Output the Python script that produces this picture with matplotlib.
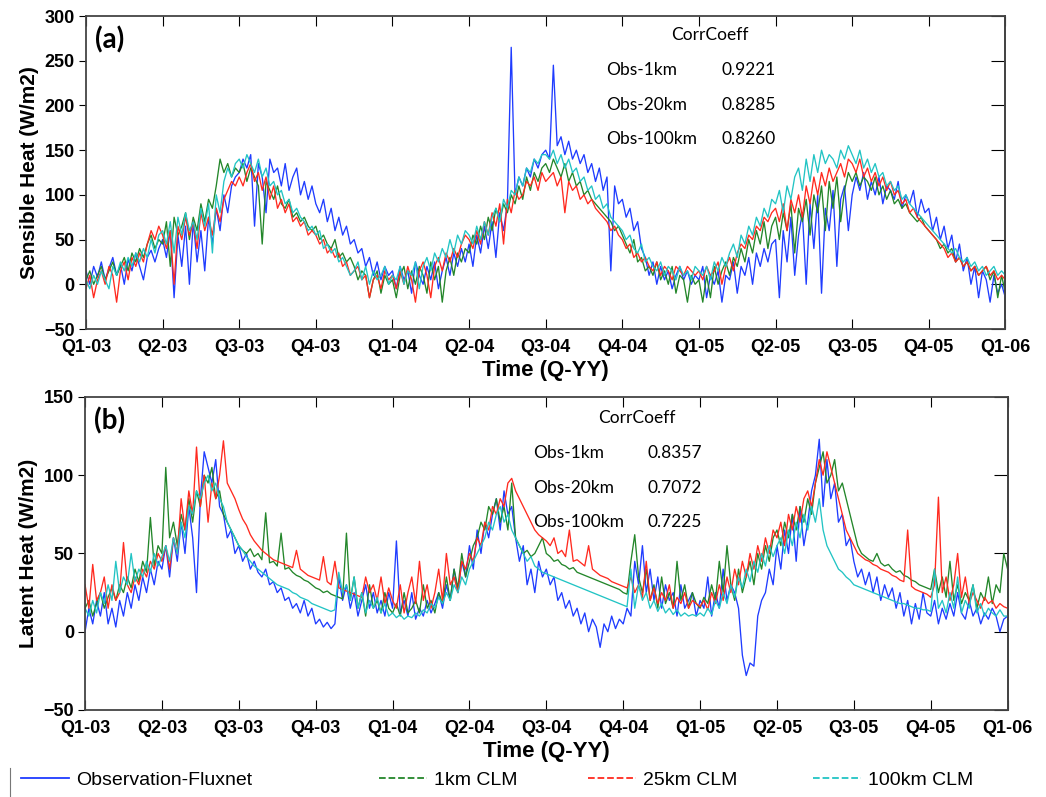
import numpy as np
import matplotlib.pyplot as plt
from matplotlib.lines import Line2D

# quarter labels on the time axis
quarters = ["Q1-03", "Q2-03", "Q3-03", "Q4-03", "Q1-04", "Q2-04", "Q3-04",
            "Q4-04", "Q1-05", "Q2-05", "Q3-05", "Q4-05", "Q1-06"]

# sensible heat (W/m2), 20 samples per quarter (one row = one quarter)
sens_obs = [15, 0, 20, 8, 25, 5, 18, 30, 10, 22, 0, 28, 15, 35, 20, 5, 30, 38, 25, 40,
            50, 30, 60, -15, 55, 20, 65, 0, 70, 25, 60, 15, 75, 45, 85, 60, 100, 80, 110, 120,
            125, 140, 130, 145, 65, 135, 120, 80, 140, 125, 130, 110, 135, 105, 120, 130, 100, 115, 95, 110,
            90, 80, 95, 70, 85, 60, 75, 55, 65, 45, 50, 35, 40, 20, 30, 10, 25, 5, 20, 10,
            15, -5, 20, 5, 15, -10, 25, 10, 0, 20, 5, 25, -5, 15, 30, 10, 35, 20, 40, 25,
            45, 20, 55, 35, 65, 40, 70, 30, 80, 60, 90, 265, 100, 120, 110, 130, 120, 140, 130, 145,
            150, 140, 245, 155, 165, 145, 160, 140, 150, 135, 145, 125, 135, 115, 130, 105, 120, 15, 110, 90,
            95, 75, 85, 60, 70, 40, 30, 10, 25, 0, 20, 5, 15, -5, 10, 20, 5, 15, 0, 10,
            5, 20, -15, 10, 0, 15, -20, 10, 5, 25, -10, 20, 10, 30, 0, 35, 20, 40, 25, 45,
            50, -15, 60, 25, 75, 10, 55, 80, 0, 90, 40, 100, -10, 85, 60, 105, 20, 95, 110, 60,
            100, 120, 105, 125, 95, 115, 100, 120, 90, 110, 105, 95, 115, 85, 100, 90, 105, 75, 95, 80,
            85, 60, 75, 50, 65, 40, 55, 25, 45, 15, 30, 0, 20, -15, 15, 5, -20, 10, -10, 0,
            -15]
sens_1km = [5, 15, 0, 10, 20, 5, 15, 25, 10, 20, 30, 15, 35, 25, 40, 30, 45, 55, 40, 50,
            45, 70, 20, 75, 55, 65, 80, 50, 75, 60, 90, 70, 95, 85, 110, 140, 125, 135, 120, 130,
            125, 135, 115, 130, 120, 110, 45, 115, 105, 95, 110, 90, 85, 95, 75, 80, 70, 75, 65, 60,
            65, 50, 55, 45, 40, 50, 30, 35, 25, 30, 20, 5, 15, 10, -15, 5, 15, -10, 10, 0,
            5, -15, 10, 20, -5, 15, 0, 20, 10, -10, 25, 5, 20, -20, 15, 30, 10, 35, 25, 40,
            35, 55, 45, 65, 50, 75, 60, 85, 70, 90, 80, 100, 90, 110, 95, 120, 105, 125, 115, 130,
            135, 125, 140, 130, 120, 135, 115, 125, 110, 115, 100, 105, 95, 90, 85, 80, 75, 70, 60, 65,
            55, 45, 35, 50, 25, 30, 15, 20, 10, 25, 5, 15, 0, 20, -10, 10, 5, -20, 10, 0,
            5, -20, 10, -15, 20, 0, 15, 25, 10, 30, 20, 40, 25, 50, 35, 60, 45, 70, 40, 65,
            75, 50, 80, 60, 90, 35, 85, 70, 95, 55, 100, 80, 110, 60, 115, 85, 120, 70, 105, 125,
            115, 125, 110, 120, 115, 105, 120, 100, 110, 95, 105, 90, 95, 85, 90, 80, 75, 70, 75, 65,
            60, 55, 50, 40, 45, 35, 40, 25, 30, 20, 25, 15, 20, 10, 15, 20, 5, 15, -15, 10,
            -10]
sens_25km = [-5, 10, -15, 5, 15, 0, 20, 10, -20, 15, 25, 5, 30, 20, 35, 25, 45, 60, 50, 65,
             55, 40, 60, 0, 65, 50, 75, 55, 70, 40, 80, 60, 75, 55, 85, 70, 95, 105, 115, 110,
             120, 110, 125, 135, 115, 125, 105, 120, 95, 110, 85, 95, 80, 90, 70, 75, 65, 70, 55, 60,
             55, 45, 50, 35, 40, 30, 35, 20, 25, 10, 15, 20, 5, 10, -15, 5, 10, -5, 15, 5,
             10, -5, 15, 0, 20, 5, -20, 15, 25, 10, -15, 20, 30, 15, 35, 25, 40, 30, 45, 55,
             50, 40, 60, 45, 70, 55, 80, 65, 90, 45, 95, 80, 105, 95, 100, 115, 110, 120, 105, 125,
             115, 120, 125, 110, 120, 80, 115, 105, 110, 95, 100, 90, 95, 85, 80, 75, 70, 60, 65, 55,
             50, 40, 45, 30, 35, 25, 30, 20, 15, 25, 10, 20, 15, 5, 20, 15, 10, 20, 15, 10,
             15, 5, 20, 10, 15, 25, 0, 20, 30, 15, 35, 45, 40, 55, 50, 65, 60, 75, 70, 80,
             85, 70, 90, 60, 95, 80, 100, 75, 110, 90, 120, 100, 125, 110, 130, 115, 125, 135, 120, 140,
             135, 125, 140, 120, 130, 115, 125, 110, 120, 105, 115, 100, 105, 90, 95, 80, 85, 75, 70, 65,
             60, 55, 50, 45, 40, 30, 35, 25, 30, 20, 25, 15, 20, 10, 15, 20, 10, 15, 5, 10,
             5]
sens_100km = [5, -5, 10, 0, 15, 5, -5, 20, 10, 25, 15, 30, 20, 35, 25, 40, 30, 50, 35, 55,
              60, 45, 70, 35, 75, 55, 80, 60, 70, 50, 85, 65, 90, 35, 100, 80, 115, 130, 120, 135,
              140, 130, 145, 135, 125, 140, 120, 130, 110, 115, 100, 105, 90, 95, 80, 85, 75, 70, 60, 65,
              55, 60, 40, 45, 35, 40, 25, 30, 20, 10, 15, 25, 5, 20, 0, 15, 5, 10, 20, 0,
              10, 5, 20, 0, 15, 10, 25, -5, 20, 30, 15, 35, 25, 40, 30, 50, 35, 55, 45, 60,
              55, 45, 65, 50, 70, 55, 75, 85, 70, 95, 85, 105, 100, 120, 110, 130, 125, 140, 135, 145,
              145, 140, 150, 135, 145, 130, 140, 125, 130, 115, 120, 105, 110, 95, 100, 85, 90, 75, 70, 65,
              60, 50, 55, 40, 35, 45, 25, 30, 20, 15, 25, 10, 20, 15, 5, 20, 10, 15, 5, 20,
              15, 10, 20, 5, 25, 15, 30, 20, 35, 45, 30, 55, 45, 65, 55, 75, 65, 85, 75, 95,
              90, 105, 80, 110, 95, 120, 130, 105, 140, 115, 145, 125, 150, 135, 145, 140, 130, 150, 140, 155,
              145, 135, 150, 130, 140, 125, 135, 120, 125, 110, 115, 105, 110, 95, 100, 90, 85, 80, 75, 70,
              65, 60, 55, 50, 45, 40, 35, 40, 30, 25, 30, 20, 25, 15, 20, 10, 15, 20, 10, 15,
              10]

# latent heat (W/m2)
lat_obs = [0, 15, 5, 20, 10, 25, 5, 15, 3, 20, 10, 25, 15, 30, 20, 35, 25, 40, 30, 45,
           40, 55, 35, 60, 45, 70, 50, 80, 60, 25, 85, 115, 105, 95, 110, 80, 75, 60, 65, 50,
           55, 45, 50, 40, 45, 38, 35, 40, 30, 32, 25, 28, 20, 22, 15, 18, 12, 20, 10, 15,
           5, 8, 3, 6, 2, 5, 35, 20, 30, 15, 25, 10, 20, 30, 15, 25, 12, 20, 10, 25,
           15, 58, 12, 20, 10, 25, 8, 15, 10, 20, 12, 18, 25, 15, 30, 20, 40, 25, 45, 35,
           55, 40, 65, 50, 70, 60, 75, 85, 65, 90, 75, 80, 60, 45, 55, 30, 40, 25, 45, 35,
           40, 30, 35, 20, 25, 15, 20, 10, 15, 5, 12, 0, 8, 3, -10, 5, 0, 10, 2, 8,
           5, 15, 10, 45, 30, 55, 25, 40, 20, 35, 15, 30, 20, 25, 10, 30, 15, 20, 25, 10,
           20, 15, 35, 10, 25, 15, 40, 20, 30, 25, 15, -15, -28, -20, -22, 10, 20, 25, 40, 30,
           55, 40, 65, 50, 75, 45, 80, 55, 70, 90, 100, 123, 80, 110, 85, 95, 70, 75, 55, 60,
           45, 35, 40, 30, 38, 25, 35, 20, 30, 22, 28, 15, 25, 10, 20, 5, 18, 8, 25, 12,
           10, 20, 5, 15, 8, 18, 10, 25, 12, 8, 20, 10, 15, 5, 12, 8, 15, 10, 0, 8,
           10]
lat_1km = [15, 20, 10, 18, 25, 15, 22, 28, 20, 30, 25, 35, 28, 40, 32, 45, 38, 73, 42, 55,
           50, 105, 60, 70, 55, 75, 65, 85, 70, 90, 80, 100, 95, 105, 85, 90, 75, 70, 65, 60,
           55, 52, 50, 53, 48, 50, 46, 76, 44, 45, 42, 63, 40, 41, 38, 36, 35, 33, 32, 30,
           28, 27, 25, 26, 24, 23, 22, 21, 63, 20, 35, 15, 25, 10, 30, 15, 20, 12, 25, 15,
           12, 18, 10, 25, 12, 15, 20, 12, 30, 15, 20, 12, 25, 18, 35, 20, 40, 28, 50, 35,
           45, 55, 60, 70, 65, 80, 75, 85, 70, 80, 65, 95, 60, 55, 50, 52, 48, 50, 55, 60,
           50, 48, 45, 46, 43, 42, 40, 41, 38, 37, 36, 35, 34, 33, 32, 31, 30, 29, 28, 27,
           25, 24, 45, 62, 35, 25, 40, 20, 30, 15, 35, 18, 25, 15, 45, 20, 30, 15, 25, 18,
           15, 22, 18, 30, 20, 45, 25, 55, 30, 20, 40, 25, 35, 45, 30, 50, 40, 55, 45, 60,
           65, 55, 70, 60, 75, 65, 80, 70, 85, 75, 95, 105, 115, 95, 100, 110, 90, 95, 85, 75,
           65, 55, 50, 48, 46, 45, 50, 44, 42, 43, 40, 38, 39, 36, 35, 33, 32, 30, 29, 28,
           27, 40, 25, 35, 22, 45, 20, 30, 18, 25, 20, 30, 15, 25, 20, 35, 18, 30, 25, 50,
           40]
lat_25km = [30, 15, 43, 20, 25, 35, 15, 30, 20, 25, 57, 30, 25, 35, 30, 40, 35, 45, 40, 50,
            45, 55, 40, 60, 50, 85, 65, 90, 75, 118, 80, 100, 70, 95, 85, 100, 122, 95, 90, 85,
            78, 72, 68, 62, 58, 55, 52, 50, 48, 46, 45, 44, 43, 42, 41, 52, 40, 38, 36, 35,
            34, 33, 48, 32, 30, 45, 28, 27, 26, 25, 24, 23, 22, 35, 25, 30, 20, 35, 18, 28,
            20, 15, 30, 12, 25, 35, 18, 45, 20, 30, 15, 25, 40, 20, 50, 30, 35, 25, 45, 40,
            50, 45, 60, 55, 70, 65, 80, 75, 85, 80, 95, 98, 90, 85, 80, 75, 70, 65, 62, 60,
            58, 55, 60, 50, 52, 48, 65, 45, 46, 44, 42, 55, 40, 38, 36, 35, 34, 32, 31, 30,
            29, 28, 35, 25, 30, 22, 45, 20, 28, 18, 25, 20, 30, 15, 22, 18, 25, 15, 20, 18,
            16, 20, 14, 25, 18, 30, 20, 35, 25, 40, 30, 45, 35, 50, 40, 55, 45, 60, 50, 65,
            60, 70, 55, 75, 65, 80, 70, 85, 90, 80, 95, 110, 100, 115, 105, 95, 85, 75, 65, 60,
            55, 50, 48, 46, 45, 43, 42, 40, 39, 38, 36, 35, 33, 32, 65, 29, 27, 26, 25, 24,
            22, 30, 86, 25, 35, 20, 30, 50, 22, 35, 18, 25, 20, 15, 22, 18, 20, 15, 18, 16,
            15]
lat_100km = [15, 10, 20, 12, 25, 18, 30, 20, 45, 25, 35, 30, 50, 32, 40, 35, 45, 38, 50, 42,
             48, 55, 45, 60, 50, 70, 60, 80, 75, 90, 85, 95, 100, 90, 95, 85, 80, 70, 65, 60,
             55, 52, 48, 45, 42, 40, 38, 36, 34, 32, 30, 29, 28, 27, 25, 24, 22, 21, 20, 18,
             17, 16, 15, 14, 13, 14, 38, 25, 30, 20, 35, 15, 25, 12, 20, 15, 22, 12, 18, 10,
             12, 9, 11, 8, 10, 9, 12, 10, 14, 12, 18, 15, 22, 18, 25, 20, 30, 25, 35, 30,
             40, 45, 50, 55, 60, 70, 65, 75, 80, 70, 75, 65, 60, 55, 50, 45, 48, 42, 40, 38,
             37, 36, 35, 34, 33, 32, 31, 30, 29, 28, 27, 26, 25, 24, 23, 22, 21, 20, 19, 18,
             17, 16, 40, 15, 30, 20, 25, 15, 20, 13, 18, 12, 15, 11, 14, 10, 12, 10, 11, 10,
             12, 10, 15, 11, 20, 15, 25, 18, 30, 22, 35, 28, 40, 32, 45, 38, 50, 42, 55, 48,
             55, 60, 50, 65, 55, 70, 60, 75, 65, 80, 70, 85, 65, 55, 50, 45, 40, 38, 35, 33,
             30, 29, 28, 27, 26, 25, 24, 23, 22, 21, 20, 19, 18, 18, 17, 16, 15, 15, 14, 14,
             13, 40, 15, 20, 12, 25, 15, 35, 12, 20, 15, 30, 12, 18, 10, 15, 12, 10, 14, 10,
             10]

series_names = ["Observation-Fluxnet", "1km CLM", "25km CLM", "100km CLM"]
colors = ["#1f3cff", "#23862a", "#ff2a1f", "#22c4c4"]

corr_rows = ["Obs-1km", "Obs-20km", "Obs-100km"]
corr_sens = ["0.9221", "0.8285", "0.8260"]
corr_lat = ["0.8357", "0.7072", "0.7225"]

fig = plt.figure(figsize=(10.46, 7.97), dpi=100)
ax1 = fig.add_axes([0.0822, 0.5872, 0.879, 0.3927])
ax2 = fig.add_axes([0.0813, 0.1092, 0.882, 0.3927])

panels = [
    (ax1, [sens_obs, sens_1km, sens_25km, sens_100km], (-50, 300),
     "Sensible Heat (W/m2)", "(a)"),
    (ax2, [lat_obs, lat_1km, lat_25km, lat_100km], (-50, 150),
     "Latent Heat (W/m2)", "(b)"),
]

for ax, data, ylim, ylab, tag in panels:
    for vals, c in zip(data, colors):
        t = np.arange(len(vals)) / 20.0
        ax.plot(t, vals, color=c, lw=0.95)
    ax.set_xlim(0, 12)
    ax.set_ylim(*ylim)
    ax.set_xticks(range(13))
    ax.set_xticklabels(quarters)
    ax.set_yticks(np.arange(ylim[0], ylim[1] + 1, 50))
    for lab in ax.get_xticklabels() + ax.get_yticklabels():
        lab.set_fontweight("bold")
        lab.set_fontfamily("Liberation Sans")
    ax.tick_params(axis="x", direction="in", top=True, length=7, labelsize=13, pad=7)
    ax.tick_params(axis="y", direction="out", length=5, labelsize=13, pad=3)
    sec = ax.secondary_yaxis("right")
    sec.set_yticks(np.arange(ylim[0], ylim[1] + 1, 50))
    sec.tick_params(direction="in", length=10, labelright=False)
    for sp in list(ax.spines.values()) + [sec.spines["right"]]:
        sp.set_color("#444444")
        sp.set_linewidth(1.3)
    ax.set_xlabel("Time (Q-YY)", fontsize=16, fontweight="bold",
                  family="Liberation Sans", labelpad=3)
    ax.set_ylabel(ylab, fontsize=15, fontweight="bold",
                  family="Liberation Sans", labelpad=4)
    ax.text(0.01, 0.925, tag, transform=ax.transAxes, fontsize=20,
            fontweight="bold", family="Lato", va="center")

# correlation text blocks (figure pixel positions)
W, H = 1046, 797
blocks = [(710, 35, 606, 721, [70, 105, 139], corr_sens),
          (637, 418, 533, 648, [453, 488, 522], corr_lat)]
for cx, cy, lx, vx, ys, corr in blocks:
    fig.text(cx / W, 1 - cy / H, "CorrCoeff", ha="center", va="center",
             fontsize=12.5, family="Lato")
    for name, val, y in zip(corr_rows, corr, ys):
        fig.text(lx / W, 1 - y / H, name, va="center", fontsize=12.5, family="Lato")
        fig.text(vx / W, 1 - y / H, val, va="center", fontsize=12.5, family="Lato")

# bottom legend, one entry per position
leg_x = [3, 361, 570, 795]
styles = ["-", "--", "--", "--"]
for name, c, ls, x in zip(series_names, colors, styles, leg_x):
    h = Line2D([], [], color=c, lw=1.3, linestyle=ls)
    fig.legend([h], [name], loc="center left", bbox_to_anchor=(x / W, 1 - 780 / H),
               frameon=False, handlelength=2.5, handletextpad=0.35,
               prop={"family": "Liberation Sans", "size": 14})

# left edge of the legend box seen in the original
fig.add_artist(Line2D([10 / W, 10 / W], [0, 1 - 768 / H], color="#777777", lw=0.8))

fig.savefig("out.png", dpi=100)
